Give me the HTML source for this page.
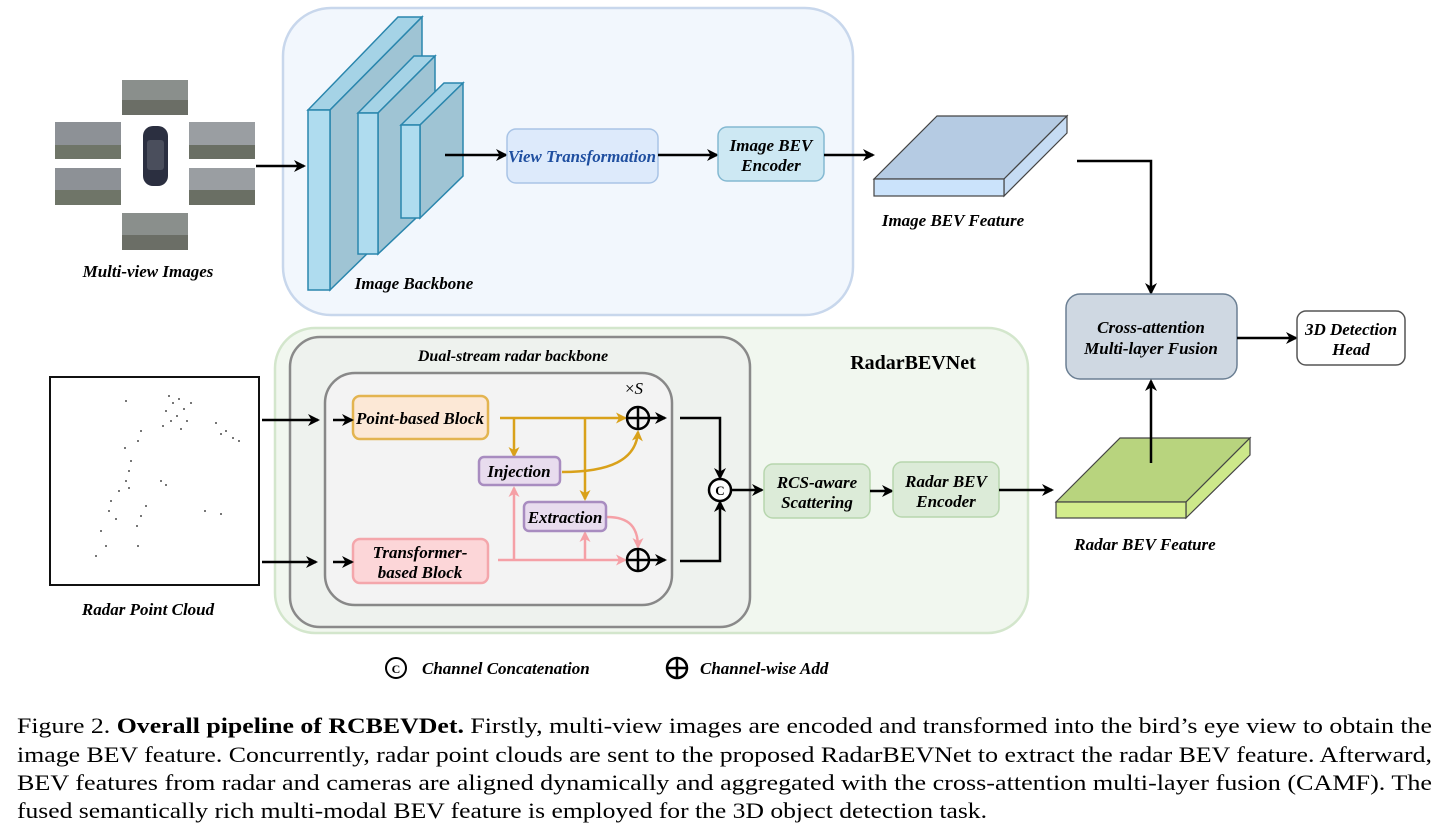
<!DOCTYPE html>
<html><head><meta charset="utf-8"><style>
html,body{margin:0;padding:0;background:#fff;}
svg{display:block;}
.it{font-family:"Liberation Serif",serif;font-style:italic;font-weight:bold;}
.cap{font-family:"Liberation Serif",serif;font-size:22px;fill:#000;}
</style></head><body>
<svg width="1440" height="839" viewBox="0 0 1440 839" xmlns="http://www.w3.org/2000/svg">
<defs>
<marker id="ab" markerWidth="12" markerHeight="12" refX="10" refY="6" orient="auto" markerUnits="userSpaceOnUse"><path d="M0,0 L12,6 L0,12 L3.5,6 z" fill="#000"/></marker>
<marker id="ao" markerWidth="11" markerHeight="11" refX="9" refY="5.5" orient="auto" markerUnits="userSpaceOnUse"><path d="M0,0 L11,5.5 L0,11 L3,5.5 z" fill="#d9a11a"/></marker>
<marker id="ap" markerWidth="11" markerHeight="11" refX="9" refY="5.5" orient="auto" markerUnits="userSpaceOnUse"><path d="M0,0 L11,5.5 L0,11 L3,5.5 z" fill="#f5a0a6"/></marker>
</defs>

<rect x="283" y="8" width="570" height="307" rx="48" fill="#f2f7fd" stroke="#c8d7ec" stroke-width="2.5"/>
<polygon points="308,110 398,17 422,17 330,110" fill="#a5d3e6" stroke="#2a86ad" stroke-width="1.5"/>
<polygon points="330,110 422,17 422,200 330,290" fill="#9fc4d4" stroke="#2a86ad" stroke-width="1.5"/>
<rect x="308" y="110" width="22" height="180" fill="#afdcef" stroke="#2a86ad" stroke-width="1.5"/>
<polygon points="358,113 414,56 435,56 378,113" fill="#a5d3e6" stroke="#2a86ad" stroke-width="1.5"/>
<polygon points="378,113 435,56 435,200 378,254" fill="#9fc4d4" stroke="#2a86ad" stroke-width="1.5"/>
<rect x="358" y="113" width="20" height="141" fill="#afdcef" stroke="#2a86ad" stroke-width="1.5"/>
<polygon points="401,125 444,83 463,83 420,125" fill="#a5d3e6" stroke="#2a86ad" stroke-width="1.5"/>
<polygon points="420,125 463,83 463,176 420,218" fill="#9fc4d4" stroke="#2a86ad" stroke-width="1.5"/>
<rect x="401" y="125" width="19" height="93" fill="#afdcef" stroke="#2a86ad" stroke-width="1.5"/>
<text x="414" y="289" class="it" font-size="17" text-anchor="middle">Image Backbone</text>

<g>
<rect x="122" y="80" width="66" height="35" fill="#8a8f8c"/><rect x="122" y="100" width="66" height="15" fill="#6b6e66"/>
<rect x="55" y="122" width="66" height="37" fill="#8d9196"/><rect x="55" y="145" width="66" height="14" fill="#6f7568"/>
<rect x="189" y="122" width="66" height="37" fill="#9a9ea2"/><rect x="189" y="145" width="66" height="14" fill="#6a6f64"/>
<rect x="55" y="168" width="66" height="37" fill="#8d9196"/><rect x="55" y="190" width="66" height="15" fill="#6f7568"/>
<rect x="189" y="168" width="66" height="37" fill="#9a9ea2"/><rect x="189" y="190" width="66" height="15" fill="#6a6f64"/>
<rect x="122" y="213" width="66" height="37" fill="#8a8f8c"/><rect x="122" y="235" width="66" height="15" fill="#6b6e66"/>
<rect x="143" y="126" width="25" height="60" rx="10" fill="#2b2f40"/>
<rect x="147" y="140" width="17" height="30" rx="3" fill="#4a4e5c"/>
</g>
<text x="148" y="277" class="it" font-size="17" text-anchor="middle">Multi-view Images</text>
<line x1="256" y1="166" x2="304" y2="166" stroke="#000" stroke-width="2.5" marker-end="url(#ab)"/>

<line x1="445" y1="155" x2="506" y2="155" stroke="#000" stroke-width="2.5" marker-end="url(#ab)"/>
<rect x="507" y="129" width="151" height="54" rx="9" fill="#ddeafb" stroke="#a9c4e6" stroke-width="1.5"/>
<text x="582" y="162" class="it" font-size="17" fill="#1f4fa0" text-anchor="middle" textLength="148" lengthAdjust="spacingAndGlyphs">View Transformation</text>
<line x1="658" y1="155" x2="717" y2="155" stroke="#000" stroke-width="2.5" marker-end="url(#ab)"/>
<rect x="718" y="127" width="106" height="54" rx="9" fill="#cde8f3" stroke="#84b9d2" stroke-width="1.5"/>
<text x="771" y="151" class="it" font-size="17" text-anchor="middle">Image BEV</text>
<text x="771" y="171" class="it" font-size="17" text-anchor="middle">Encoder</text>
<line x1="824" y1="155" x2="873" y2="155" stroke="#000" stroke-width="2.5" marker-end="url(#ab)"/>

<polygon points="874,179 937,116 1067,116 1004,179" fill="#b5cbe3" stroke="#444" stroke-width="1.2"/>
<polygon points="1004,179 1067,116 1067,133 1004,196" fill="#c6dcf4" stroke="#444" stroke-width="1.2"/>
<rect x="874" y="179" width="130" height="17" fill="#cbe3fb" stroke="#444" stroke-width="1.2"/>
<text x="953" y="226" class="it" font-size="17" text-anchor="middle">Image BEV Feature</text>
<polyline points="1077,161 1151,161 1151,293" fill="none" stroke="#000" stroke-width="2.5" marker-end="url(#ab)"/>

<rect x="1066" y="294" width="171" height="85" rx="14" fill="#cfd8e2" stroke="#6b7f93" stroke-width="1.5"/>
<text x="1151" y="333" class="it" font-size="17" text-anchor="middle">Cross-attention</text>
<text x="1151" y="354" class="it" font-size="17" text-anchor="middle">Multi-layer Fusion</text>
<line x1="1237" y1="338" x2="1296" y2="338" stroke="#000" stroke-width="2.5" marker-end="url(#ab)"/>
<rect x="1297" y="311" width="108" height="54" rx="9" fill="#fff" stroke="#555" stroke-width="1.5"/>
<text x="1351" y="335" class="it" font-size="17" text-anchor="middle">3D Detection</text>
<text x="1351" y="355" class="it" font-size="17" text-anchor="middle">Head</text>

<rect x="275" y="328" width="753" height="305" rx="40" fill="#f1f7ef" stroke="#d3e6cc" stroke-width="2.5"/>
<text x="913" y="369" font-family="Liberation Serif,serif" font-weight="bold" font-size="20" text-anchor="middle">RadarBEVNet</text>
<rect x="290" y="337" width="460" height="290" rx="30" fill="#eef2ee" stroke="#8a8a8a" stroke-width="2.5"/>
<text x="513" y="361" class="it" font-size="16" text-anchor="middle">Dual-stream radar backbone</text>
<rect x="325" y="373" width="347" height="232" rx="30" fill="#f3f3f3" stroke="#888" stroke-width="2.5"/>

<rect x="353" y="396" width="135" height="43" rx="7" fill="#fce8d6" stroke="#e3b450" stroke-width="2.5"/>
<text x="420" y="424" class="it" font-size="17" text-anchor="middle">Point-based Block</text>
<rect x="353" y="539" width="135" height="44" rx="7" fill="#fcd6d8" stroke="#f4a6ab" stroke-width="2.5"/>
<text x="420" y="558" class="it" font-size="17" text-anchor="middle">Transformer-</text>
<text x="420" y="578" class="it" font-size="17" text-anchor="middle">based Block</text>

<line x1="500" y1="418" x2="625" y2="418" stroke="#d9a11a" stroke-width="2.5" marker-end="url(#ao)"/>
<line x1="514" y1="418" x2="514" y2="456" stroke="#d9a11a" stroke-width="2.5" marker-end="url(#ao)"/>
<line x1="585" y1="418" x2="585" y2="499" stroke="#d9a11a" stroke-width="2.5" marker-end="url(#ao)"/>
<path d="M562,472 C610,472 636,460 638,432" fill="none" stroke="#d9a11a" stroke-width="2.5" marker-end="url(#ao)"/>
<line x1="498" y1="560" x2="625" y2="560" stroke="#f5a0a6" stroke-width="2.5" marker-end="url(#ap)"/>
<line x1="514" y1="560" x2="514" y2="488" stroke="#f5a0a6" stroke-width="2.5" marker-end="url(#ap)"/>
<line x1="585" y1="560" x2="585" y2="533" stroke="#f5a0a6" stroke-width="2.5" marker-end="url(#ap)"/>
<path d="M607,517 C630,517 638,528 638,547" fill="none" stroke="#f5a0a6" stroke-width="2.5" marker-end="url(#ap)"/>

<rect x="479" y="457" width="81" height="28" rx="5" fill="#e8dcee" stroke="#a88cc0" stroke-width="2.5"/>
<text x="519" y="477" class="it" font-size="17" text-anchor="middle">Injection</text>
<rect x="524" y="502" width="82" height="29" rx="5" fill="#e8dcee" stroke="#a88cc0" stroke-width="2.5"/>
<text x="565" y="523" class="it" font-size="17" text-anchor="middle">Extraction</text>

<text x="634" y="394" font-family="Liberation Serif,serif" font-size="17" text-anchor="middle">×<tspan font-style="italic">S</tspan></text>
<g stroke="#000" stroke-width="2.5" fill="none">
<circle cx="638" cy="418" r="11"/><line x1="627" y1="418" x2="649" y2="418"/><line x1="638" y1="407" x2="638" y2="429"/>
<circle cx="638" cy="560" r="11"/><line x1="627" y1="560" x2="649" y2="560"/><line x1="638" y1="549" x2="638" y2="571"/>
</g>
<line x1="650" y1="418" x2="665" y2="418" stroke="#000" stroke-width="2.5" marker-end="url(#ab)"/>
<line x1="650" y1="560" x2="665" y2="560" stroke="#000" stroke-width="2.5" marker-end="url(#ab)"/>
<polyline points="680,418 720,418 720,478" fill="none" stroke="#000" stroke-width="2.5" marker-end="url(#ab)"/>
<polyline points="680,561 720,561 720,502" fill="none" stroke="#000" stroke-width="2.5" marker-end="url(#ab)"/>
<circle cx="720" cy="490" r="11" fill="#fff" stroke="#000" stroke-width="2.5"/>
<text x="720" y="495" font-family="Liberation Serif,serif" font-weight="bold" font-size="13" text-anchor="middle">C</text>
<line x1="731" y1="490" x2="762" y2="490" stroke="#000" stroke-width="2.5" marker-end="url(#ab)"/>

<rect x="50" y="377" width="209" height="208" fill="#fff" stroke="#111" stroke-width="2"/>
<g fill="#777">
<rect x="168" y="395" width="2" height="2"/><rect x="172" y="402" width="2" height="2"/><rect x="165" y="410" width="2" height="2"/><rect x="178" y="398" width="2" height="2"/><rect x="183" y="408" width="2" height="2"/><rect x="176" y="415" width="2" height="2"/><rect x="170" y="420" width="2" height="2"/><rect x="186" y="420" width="2" height="2"/><rect x="180" y="428" width="2" height="2"/><rect x="190" y="402" width="2" height="2"/><rect x="162" y="425" width="2" height="2"/><rect x="215" y="422" width="2" height="2"/><rect x="225" y="430" width="2" height="2"/><rect x="232" y="437" width="2" height="2"/><rect x="238" y="440" width="2" height="2"/><rect x="220" y="433" width="2" height="2"/><rect x="140" y="430" width="2" height="2"/><rect x="137" y="440" width="2" height="2"/><rect x="130" y="460" width="2" height="2"/><rect x="128" y="470" width="2" height="2"/><rect x="125" y="480" width="2" height="2"/><rect x="160" y="480" width="2" height="2"/><rect x="165" y="484" width="2" height="2"/><rect x="128" y="487" width="2" height="2"/><rect x="118" y="490" width="2" height="2"/><rect x="110" y="500" width="2" height="2"/><rect x="108" y="510" width="2" height="2"/><rect x="115" y="518" width="2" height="2"/><rect x="145" y="505" width="2" height="2"/><rect x="140" y="515" width="2" height="2"/><rect x="136" y="525" width="2" height="2"/><rect x="100" y="530" width="2" height="2"/><rect x="105" y="545" width="2" height="2"/><rect x="95" y="555" width="2" height="2"/><rect x="137" y="545" width="2" height="2"/><rect x="124" y="447" width="2" height="2"/><rect x="204" y="510" width="2" height="2"/><rect x="220" y="513" width="2" height="2"/><rect x="125" y="400" width="2" height="2"/>
</g>
<text x="148" y="615" class="it" font-size="17" text-anchor="middle">Radar Point Cloud</text>
<line x1="262" y1="420" x2="318" y2="420" stroke="#000" stroke-width="2.5" marker-end="url(#ab)"/>
<line x1="333" y1="420" x2="352" y2="420" stroke="#000" stroke-width="2.5" marker-end="url(#ab)"/>
<line x1="262" y1="562" x2="316" y2="562" stroke="#000" stroke-width="2.5" marker-end="url(#ab)"/>
<line x1="333" y1="562" x2="352" y2="562" stroke="#000" stroke-width="2.5" marker-end="url(#ab)"/>

<rect x="764" y="464" width="106" height="54" rx="9" fill="#dcebd8" stroke="#b7d6ae" stroke-width="1.5"/>
<text x="817" y="488" class="it" font-size="17" text-anchor="middle">RCS-aware</text>
<text x="817" y="508" class="it" font-size="17" text-anchor="middle">Scattering</text>
<line x1="870" y1="491" x2="892" y2="491" stroke="#000" stroke-width="2.5" marker-end="url(#ab)"/>
<rect x="893" y="462" width="106" height="55" rx="9" fill="#dcebd8" stroke="#b7d6ae" stroke-width="1.5"/>
<text x="946" y="487" class="it" font-size="17" text-anchor="middle">Radar BEV</text>
<text x="946" y="507" class="it" font-size="17" text-anchor="middle">Encoder</text>
<line x1="999" y1="490" x2="1052" y2="490" stroke="#000" stroke-width="2.5" marker-end="url(#ab)"/>

<polygon points="1056,502 1120,438 1250,438 1186,502" fill="#b8d47e" stroke="#444" stroke-width="1.2"/>
<polygon points="1186,502 1250,438 1250,455 1186,518" fill="#cde88a" stroke="#444" stroke-width="1.2"/>
<rect x="1056" y="502" width="130" height="16" fill="#d3ed8c" stroke="#444" stroke-width="1.2"/>
<text x="1145" y="550" class="it" font-size="17" text-anchor="middle">Radar BEV Feature</text>
<line x1="1151" y1="463" x2="1151" y2="381" stroke="#000" stroke-width="2.5" marker-end="url(#ab)"/>

<circle cx="396" cy="668" r="10" fill="#fff" stroke="#000" stroke-width="2"/>
<text x="396" y="673" font-family="Liberation Serif,serif" font-weight="bold" font-size="12" text-anchor="middle">C</text>
<text x="422" y="674" class="it" font-size="17">Channel Concatenation</text>
<g stroke="#000" stroke-width="2.5" fill="none"><circle cx="677" cy="668" r="10"/><line x1="667" y1="668" x2="687" y2="668"/><line x1="677" y1="658" x2="677" y2="678"/></g>
<text x="700" y="674" class="it" font-size="17">Channel-wise Add</text>

<text class="cap" x="17" y="733" textLength="1415" lengthAdjust="spacingAndGlyphs">Figure 2. <tspan font-weight="bold">Overall pipeline of RCBEVDet.</tspan> Firstly, multi-view images are encoded and transformed into the bird’s eye view to obtain the</text>
<text class="cap" x="17" y="762" textLength="1415" lengthAdjust="spacingAndGlyphs">image BEV feature. Concurrently, radar point clouds are sent to the proposed RadarBEVNet to extract the radar BEV feature. Afterward,</text>
<text class="cap" x="17" y="790" textLength="1415" lengthAdjust="spacingAndGlyphs">BEV features from radar and cameras are aligned dynamically and aggregated with the cross-attention multi-layer fusion (CAMF). The</text>
<text class="cap" x="17" y="818" textLength="970" lengthAdjust="spacingAndGlyphs">fused semantically rich multi-modal BEV feature is employed for the 3D object detection task.</text>
</svg>
</body></html>
